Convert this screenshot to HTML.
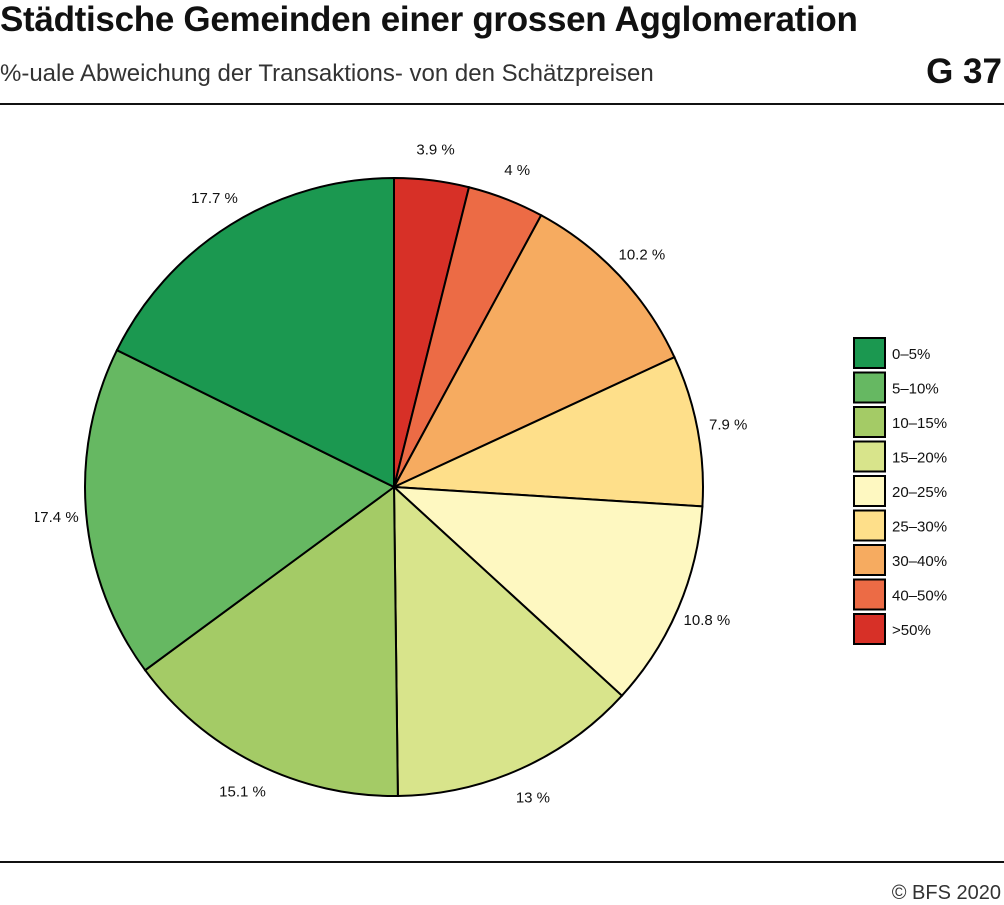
<!DOCTYPE html>
<html><head><meta charset="utf-8"><style>
body{margin:0;background:#fff;font-family:"Liberation Sans",sans-serif;}
#wrap{position:relative;width:1004px;height:905px;overflow:hidden;}
.t{position:absolute;white-space:nowrap;color:#111;}
</style></head><body>
<div id="wrap">
<div class="t" style="left:0;top:0;font-size:35px;font-weight:bold;letter-spacing:-0.3px;">Städtische Gemeinden einer grossen Agglomeration</div>
<div class="t" style="left:0;top:60px;font-size:24px;color:#333;">%-uale Abweichung der Transaktions- von den Schätzpreisen</div>
<div class="t" style="right:2px;top:52px;font-size:35px;font-weight:bold;">G 37</div>
<div style="position:absolute;left:0;top:103px;width:1004px;height:2px;background:#111;"></div>
<div style="position:absolute;left:0;top:861px;width:1004px;height:2px;background:#111;"></div>
<div class="t" style="right:3px;top:882px;font-size:20px;color:#333;">© BFS 2020</div>
<svg id="svg" width="1004" height="905" style="position:absolute;left:0;top:0">
<defs><clipPath id="clip"><rect x="35" y="0" width="1000" height="905"/></clipPath></defs>
</svg>
</div>
<script>
const categories=[">50%","40–50%","30–40%","25–30%","20–25%","15–20%","10–15%","5–10%","0–5%"];
const values=[3.9,4,10.2,7.9,10.8,13,15.1,17.4,17.7];
const valueLabels=["3.9 %","4 %","10.2 %","7.9 %","10.8 %","13 %","15.1 %","17.4 %","17.7 %"];
const colors=["#d73027","#ec6b45","#f6ab60","#fedf8a","#fef8c1","#d8e48b","#a4cb66","#66b862","#1b9850"];
const legendOrder=["0–5%","5–10%","10–15%","15–20%","20–25%","25–30%","30–40%","40–50%",">50%"];
const NS="http://www.w3.org/2000/svg";
const svg=document.getElementById('svg');
const cx=394,cy=487,R=309,LR=340;
const total=values.reduce((a,b)=>a+b,0);
function pt(a,r){return [cx+r*Math.sin(a),cy-r*Math.cos(a)];}
let cum=0;
values.forEach((v,i)=>{
  const a0=cum/total*2*Math.PI; cum+=v; const a1=cum/total*2*Math.PI;
  const p0=pt(a0,R),p1=pt(a1,R);
  const p=document.createElementNS(NS,'path');
  p.setAttribute('d',`M${cx},${cy}L${p0[0]},${p0[1]}A${R},${R} 0 ${a1-a0>Math.PI?1:0} 1 ${p1[0]},${p1[1]}Z`);
  p.setAttribute('fill',colors[i]);p.setAttribute('stroke','#000');p.setAttribute('stroke-width','2');
  
  
  svg.appendChild(p);
  const m=(a0+a1)/2, lp=pt(m,LR);
  const t=document.createElementNS(NS,'text');
  t.setAttribute('x',lp[0]);t.setAttribute('y',lp[1]+5);t.setAttribute('text-anchor','middle');
  t.setAttribute('font-size','15');t.setAttribute('fill','#111');t.setAttribute('clip-path','url(#clip)');
  t.setAttribute('font-family','Liberation Sans, sans-serif');
  t.textContent=valueLabels[i];
  
  
  svg.appendChild(t);
});
legendOrder.forEach((c,j)=>{
  const i=categories.indexOf(c), y=338+j*34.5;
  const r=document.createElementNS(NS,'rect');
  r.setAttribute('x',854);r.setAttribute('y',y);r.setAttribute('width',31);r.setAttribute('height',30);
  r.setAttribute('fill',colors[i]);r.setAttribute('stroke','#000');r.setAttribute('stroke-width','2');
  
  
  svg.appendChild(r);
  const t=document.createElementNS(NS,'text');
  t.setAttribute('x',892);t.setAttribute('y',y+21);t.setAttribute('font-size','15');t.setAttribute('fill','#111');
  t.setAttribute('font-family','Liberation Sans, sans-serif');
  t.textContent=c;
  
  
  svg.appendChild(t);
});
</script>
</body></html>
